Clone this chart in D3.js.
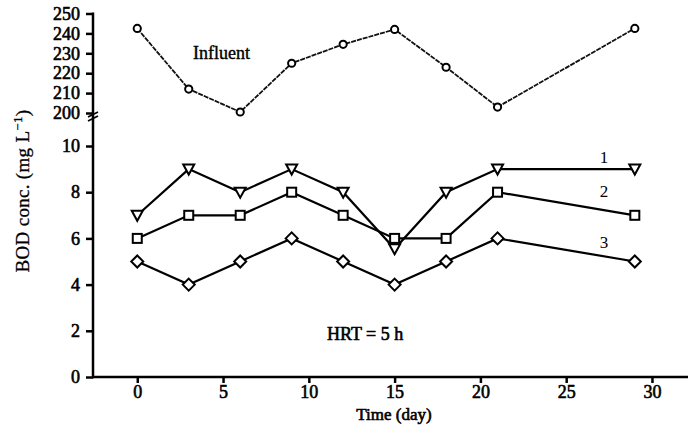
<!DOCTYPE html>
<html><head><meta charset="utf-8">
<script src="https://cdn.jsdelivr.net/npm/d3@7"></script>
<style>body{margin:0;background:#fff}svg{display:block}text{font-family:"Liberation Serif","Times New Roman",serif;fill:#000}
.bold{stroke:#000;stroke-width:0.6px}</style>
</head><body>
<svg id="c" width="688" height="432"></svg>
<script>
const days = [0, 3, 6, 9, 12, 15, 18, 21, 29];
const influent = [242.5, 212, 200.5, 225, 234.5, 242, 223, 203, 242.5];
const series1 = [7, 9, 8, 9, 8, 5.55, 8, 9, 9];
const series2 = [6, 7, 7, 8, 7, 6, 6, 8, 7];
const series3 = [5, 4, 5, 6, 5, 4, 5, 6, 5];
const xTicks = [0, 5, 10, 15, 20, 25, 30];
const yTopTicks = [200, 210, 220, 230, 240, 250];
const yBotTicks = [0, 2, 4, 6, 8, 10];
const seriesLabels = ["1", "2", "3"];

const svg = d3.select("#c");
const x = d3.scaleLinear().domain([-2.58, 32.1]).range([93, 688]);
const yTop = d3.scaleLinear().domain([200, 250]).range([113, 13.5]);
const yBot = d3.scaleLinear().domain([0, 10]).range([377, 146]);

// axes
const xAxis = d3.axisBottom(x).tickValues(xTicks).tickSize(6).tickPadding(3).tickSizeOuter(0);
const gx = svg.append("g").attr("transform", "translate(0,377)").call(xAxis);
const gyT = svg.append("g").attr("transform", "translate(93,0)")
  .call(d3.axisLeft(yTop).tickValues(yTopTicks).tickSize(7).tickPadding(6).tickSizeOuter(0));
const gyB = svg.append("g").attr("transform", "translate(93,0)")
  .call(d3.axisLeft(yBot).tickValues(yBotTicks).tickSize(7).tickPadding(6).tickSizeOuter(0));
[gx, gyT, gyB].forEach(g => {
  g.attr("font-family", null).attr("font-size", null);
  g.select(".domain").remove();
  g.selectAll(".tick line").attr("stroke", "#000").attr("stroke-width", 2.5);
  g.selectAll(".tick text").attr("font-size", 18).attr("class", "bold").attr("fill", "#000");
});
gx.selectAll(".tick text").attr("dy", null).attr("y", 21);
// axis lines
svg.append("line").attr("x1", 93).attr("x2", 93).attr("y1", yTop(250) - 1).attr("y2", 378.2)
  .attr("stroke", "#000").attr("stroke-width", 2.5);
svg.append("line").attr("x1", 92).attr("x2", 688).attr("y1", 377).attr("y2", 377)
  .attr("stroke", "#000").attr("stroke-width", 2.5);
// break marks
[114.5, 118.5].forEach(yy => {
  svg.append("line").attr("x1", 88).attr("x2", 98).attr("y1", yy + 2.5).attr("y2", yy - 2.5)
    .attr("stroke", "#000").attr("stroke-width", 1.8);
});

// influent
const lineTop = d3.line().x((d, i) => x(days[i])).y(d => yTop(d));
svg.append("path").datum(influent).attr("d", lineTop).attr("fill", "none")
  .attr("stroke", "#111").attr("stroke-width", 1.8).attr("stroke-dasharray", "5,1");
svg.selectAll(".inf").data(influent).enter().append("circle")
  .attr("cx", (d, i) => x(days[i])).attr("cy", d => yTop(d)).attr("r", 3.6)
  .attr("fill", "#fff").attr("stroke", "#000").attr("stroke-width", 2);

const lineBot = d3.line().x((d, i) => x(days[i])).y(d => yBot(d));
const all = [series1, series2, series3];
all.forEach(s => {
  svg.append("path").datum(s).attr("d", lineBot).attr("fill", "none")
    .attr("stroke", "#000").attr("stroke-width", 2.2);
});
function tri(cx, cy) { const w = 5.5; return `M${cx - w},${cy - 4.5}L${cx + w},${cy - 4.5}L${cx},${cy + 5.5}Z`; }
svg.selectAll(".s1").data(series1).enter().append("path")
  .attr("d", (d, i) => tri(x(days[i]), yBot(d)))
  .attr("fill", "#fff").attr("stroke", "#000").attr("stroke-width", 2);
svg.selectAll(".s2").data(series2).enter().append("rect")
  .attr("x", (d, i) => x(days[i]) - 4.5).attr("y", d => yBot(d) - 4.5)
  .attr("width", 9).attr("height", 9)
  .attr("fill", "#fff").attr("stroke", "#000").attr("stroke-width", 2);
svg.selectAll(".s3").data(series3).enter().append("path")
  .attr("d", (d, i) => { const cx = x(days[i]), cy = yBot(d), r = 6; return `M${cx},${cy - r}L${cx + r},${cy}L${cx},${cy + r}L${cx - r},${cy}Z`; })
  .attr("fill", "#fff").attr("stroke", "#000").attr("stroke-width", 2);

// series labels
const labelVals = [9.5, 8.0, 5.8];
seriesLabels.forEach((t, i) => {
  svg.append("text").attr("x", x(27.2)).attr("y", yBot(labelVals[i]) + 5)
    .attr("text-anchor", "middle").attr("font-size", 17).text(t);
});
svg.append("text").attr("x", 193).attr("y", 59).attr("font-size", 18).attr("class", "bold")
  .style("stroke-width", "0.4px").text("Influent");
svg.append("text").attr("x", 327).attr("y", 340).attr("font-size", 18).attr("class", "bold").text("HRT = 5 h");

// axis titles
svg.append("text").attr("x", 394).attr("y", 420).attr("text-anchor", "middle")
  .attr("font-size", 17).attr("class", "bold").text("Time (day)");
const yl = svg.append("text").attr("transform", "translate(29,191) rotate(-90)")
  .attr("text-anchor", "middle").attr("font-size", 19).attr("letter-spacing", 0.3)
  .attr("class", "bold").style("stroke-width", "0.3px");
yl.append("tspan").text("BOD conc. (mg L");
yl.append("tspan").attr("dy", -7).attr("font-size", 13).text("−1");
yl.append("tspan").attr("dy", 7).text(")");
</script>
</body></html>
